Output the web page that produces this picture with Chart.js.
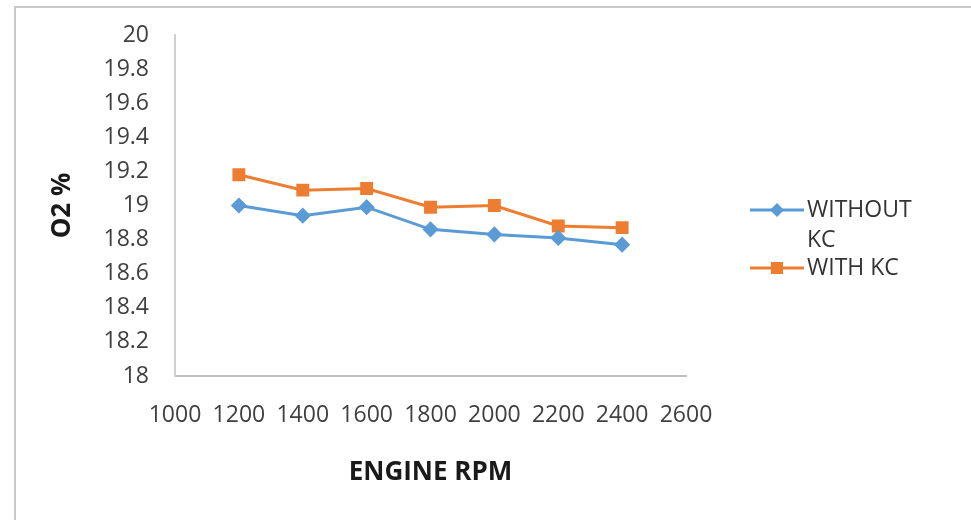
<!DOCTYPE html>
<html>
<head>
  <title>O2 % vs Engine RPM</title>
  <script src="https://cdn.jsdelivr.net/npm/chart.js"></script>
  <style>
    body { margin: 0; background: #fff; }
    #wrap { position: relative; width: 971px; height: 520px; overflow: hidden; }
    #frame { position: absolute; left: 14px; top: 6px; width: 980px; height: 540px; border: 2px solid #c8c8c8; }
    canvas { position: absolute; left: 0; top: 0; }
  </style>
</head>
<body>
  <div id="wrap">
    <div id="frame"></div>
    <canvas id="o2Chart" width="971" height="520"></canvas>
  </div>

  <script>
    // engine speed (rpm) and O2 readings
    const rpm = [1200, 1400, 1600, 1800, 2000, 2200, 2400];
    const withoutKC = [19.00, 18.94, 18.99, 18.86, 18.83, 18.81, 18.77];
    const withKC = [19.18, 19.09, 19.10, 18.99, 19.00, 18.88, 18.87];
    const seriesNames = [['WITHOUT', 'KC'], ['WITH KC']];

    const blue = '#5B9BD5';
    const orange = '#ED7D31';
    const font = "'Open Sans', sans-serif";

    // legend on the right, drawn on the canvas like Excel's
    const sideLegend = {
      id: 'sideLegend',
      afterDraw(chart) {
        const ctx = chart.ctx;
        const rows = [{ y: 210 }, { y: 268 }];
        ctx.save();
        chart.data.datasets.forEach((ds, i) => {
          const y = rows[i].y;
          ctx.strokeStyle = ds.borderColor;
          ctx.lineWidth = 3;
          ctx.beginPath();
          ctx.moveTo(750, y);
          ctx.lineTo(804, y);
          ctx.stroke();
          ctx.fillStyle = ds.borderColor;
          if (ds.pointStyle === 'rectRot') {
            ctx.beginPath();
            ctx.moveTo(777, y - 7); ctx.lineTo(784, y); ctx.lineTo(777, y + 7); ctx.lineTo(770, y);
            ctx.closePath(); ctx.fill();
          } else {
            ctx.fillRect(771, y - 6, 12, 12);
          }
          ctx.fillStyle = '#333333';
          ctx.font = '23px ' + font;
          ctx.textBaseline = 'middle';
          seriesNames[i].forEach((t, k) => ctx.fillText(t, 807, y + k * 30));
        });
        ctx.restore();
      }
    };

    const ctx = document.getElementById('o2Chart').getContext('2d');
    new Chart(ctx, {
      type: 'line',
      data: {
        datasets: [{
          label: seriesNames[0].join(' '),
          data: rpm.map((x, i) => ({ x: x, y: withoutKC[i] })),
          borderColor: blue,
          backgroundColor: blue,
          borderWidth: 3,
          pointStyle: 'rectRot',
          pointRadius: 6,
          tension: 0
        }, {
          label: seriesNames[1].join(' '),
          data: rpm.map((x, i) => ({ x: x, y: withKC[i] })),
          borderColor: orange,
          backgroundColor: orange,
          borderWidth: 3,
          pointStyle: 'rect',
          pointRadius: 7,
          tension: 0
        }]
      },
      options: {
        responsive: false,
        animation: false,
        layout: { padding: { left: 0, top: 35, right: 285, bottom: 0 } },
        plugins: { legend: { display: false }, tooltip: { enabled: false } },
        scales: {
          x: {
            type: 'linear',
            min: 1000,
            max: 2600,
            grid: { display: false, drawTicks: false },
            border: { display: true, color: '#bfbfbf', width: 2 },
            ticks: {
              stepSize: 200, padding: 26, color: '#404040', autoSkip: false, maxRotation: 0,
              font: { family: font, size: 23 },
              callback: v => String(v)
            },
            title: {
              display: true, text: 'ENGINE RPM', color: '#1a1a1a',
              font: { family: font, size: 26, weight: 'bold' },
              padding: { top: 0, bottom: 32 }
            },
            afterFit(scale) { scale.height = 144; }
          },
          y: {
            min: 18,
            max: 20,
            grid: { display: false, drawTicks: false },
            border: { display: true, color: '#d0d0d0', width: 2 },
            ticks: {
              stepSize: 0.2, padding: 26, color: '#404040', autoSkip: false,
              font: { family: font, size: 23 },
              callback: v => String(Number(v.toFixed(1)))
            },
            title: {
              display: true, text: 'O2 %', color: '#1a1a1a',
              font: { family: font, size: 26, weight: 'bold' },
              padding: { top: 47, bottom: 0 }
            },
            afterFit(scale) {
              scale.width = 175;
              // tick padding would otherwise push the plot top down
              scale.paddingTop = 0;
              scale.paddingBottom = 0;
            }
          }
        }
      },
      plugins: [sideLegend]
    });
  </script>
</body>
</html>
